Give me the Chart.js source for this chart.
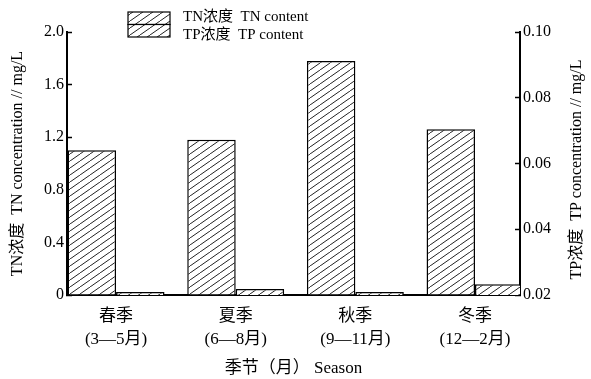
<!DOCTYPE html>
<html>
<head>
<meta charset="utf-8">
<script src="https://cdn.jsdelivr.net/npm/chart.js@4.4.0/dist/chart.umd.min.js"></script>
<style>
  html, body { margin: 0; padding: 0; background: #fff; }
  #wrap { width: 591px; height: 379px; }
</style>
</head>
<body>
<div id="wrap"><canvas id="seasonChart"></canvas></div>
<script>
const seasons = [['春季', '(3—5月)'], ['夏季', '(6—8月)'], ['秋季', '(9—11月)'], ['冬季', '(12—2月)']];
const tnValues = [1.10, 1.18, 1.78, 1.26];
const tpValues = [0.0209, 0.0218, 0.0209, 0.0233];
const tnTicks = [0, 0.4, 0.8, 1.2, 1.6, 2.0];
const tpTicks = [0.02, 0.04, 0.06, 0.08, 0.10];
const rightTitle = 'TP浓度  TP concentration // mg/L';

const FONT = "'Liberation Serif', 'Noto Sans CJK SC', serif";

// diagonal hatch like the printed figure
function hatch() {
    const w = 10, h = 7;
    const c = document.createElement('canvas');
    c.width = w; c.height = h;
    const g = c.getContext('2d');
    g.fillStyle = '#fff';
    g.fillRect(0, 0, w, h);
    g.strokeStyle = '#222';
    g.lineWidth = 1;
    g.beginPath();
    g.moveTo(0, h); g.lineTo(w, 0);
    g.moveTo(-w, h); g.lineTo(0, 0);
    g.moveTo(w, h); g.lineTo(2 * w, 0);
    g.stroke();
    return g.createPattern(c, 'repeat');
}
const pat = hatch();

// two legend rows stacked, plus the right axis title read bottom-up
const extras = {
    id: 'extras',
    afterDraw(chart) {
        const ctx = chart.ctx;
        chart.data.datasets.forEach(function(ds, i) {
            const y = 12 + i * 12.5;
            ctx.save();
            ctx.fillStyle = ds.backgroundColor;
            ctx.fillRect(128, y, 42, 12.5);
            ctx.strokeStyle = '#000';
            ctx.lineWidth = 1.2;
            ctx.strokeRect(128, y, 42, 12.5);
            ctx.fillStyle = '#000';
            ctx.font = '15px ' + FONT;
            ctx.textBaseline = 'middle';
            ctx.fillText(ds.label, 183, 17 + i * 18);
            ctx.restore();
        });
        const a = chart.chartArea;
        ctx.save();
        ctx.translate(577, (a.top + a.bottom) / 2 + 6);
        ctx.rotate(-Math.PI / 2);
        ctx.fillStyle = '#000';
        ctx.font = '16px ' + FONT;
        ctx.textAlign = 'center';
        ctx.textBaseline = 'middle';
        ctx.fillText(rightTitle, 0, 0);
        ctx.restore();
    }
};

const ctx = document.getElementById('seasonChart');
const seasonChart = new Chart(ctx, {
    type: 'bar',
    data: {
        datasets: [{
            label: 'TN浓度  TN content',
            data: tnValues.map((v, i) => ({x: i, y: v})),
            yAxisID: 'yTN',
            backgroundColor: pat,
            borderColor: '#000',
            borderWidth: 1.5,
        }, {
            label: 'TP浓度  TP content',
            data: tpValues.map((v, i) => ({x: i, y: v})),
            yAxisID: 'yTP',
            backgroundColor: pat,
            borderColor: '#000',
            borderWidth: 1.5,
        }]
    },
    options: {
        responsive: true,
        maintainAspectRatio: false,
        animation: false,
        categoryPercentage: 0.81,
        barPercentage: 1,
        layout: { padding: { top: 32 } },
        plugins: {
            legend: { display: false },
            tooltip: { enabled: false }
        },
        scales: {
            x: {
                type: 'linear',
                offset: false,
                min: -0.41,
                max: 3.376,
                afterBuildTicks: s => { s.ticks = seasons.map((_, i) => ({value: i})); },
                afterFit: s => { s.height = 84; },
                ticks: {
                    callback: v => seasons[v],
                    color: '#000',
                    font: { family: FONT, size: 17, lineHeight: 1.35 },
                    padding: 10,
                    maxRotation: 0
                },
                grid: { drawOnChartArea: false, drawTicks: false },
                border: { color: '#000', width: 2 },
                title: {
                    display: true,
                    text: '季节（月） Season',
                    color: '#000',
                    font: { family: FONT, size: 17 },
                    padding: { top: 1, bottom: 0 }
                }
            },
            yTN: {
                position: 'left',
                min: 0,
                max: 2,
                afterBuildTicks: s => { s.ticks = tnTicks.map(v => ({value: v})); },
                afterFit: s => { s.width = 67; },
                ticks: {
                    callback: v => v === 0 ? '0' : v.toFixed(1),
                    color: '#000',
                    font: { family: FONT, size: 16 },
                    padding: 8
                },
                grid: { drawOnChartArea: false, tickLength: -5, tickColor: '#000', tickWidth: 1.5 },
                border: { color: '#000', width: 2 },
                title: {
                    display: true,
                    text: 'TN浓度  TN concentration // mg/L',
                    color: '#000',
                    font: { family: FONT, size: 16 },
                    padding: { top: 8, bottom: 0 }
                }
            },
            yTP: {
                position: 'right',
                min: 0.02,
                max: 0.10,
                afterBuildTicks: s => { s.ticks = tpTicks.map(v => ({value: v})); },
                afterFit: s => { s.width = 71; },
                ticks: {
                    callback: v => v.toFixed(2),
                    color: '#000',
                    font: { family: FONT, size: 16 },
                    padding: 8
                },
                grid: { drawOnChartArea: false, tickLength: -5, tickColor: '#000', tickWidth: 1.5 },
                border: { color: '#000', width: 2 }
            }
        }
    },
    plugins: [extras]
});
</script>
</body>
</html>
